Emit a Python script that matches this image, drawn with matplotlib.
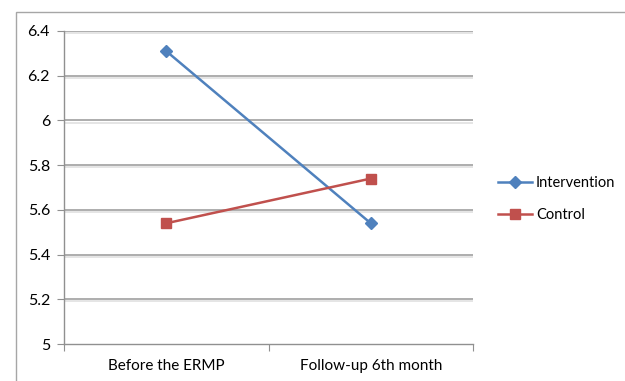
import matplotlib.pyplot as plt
import matplotlib.patheffects as pe
from matplotlib.patches import Rectangle

categories = ["Before the ERMP", "Follow-up 6th month"]
intervention = [6.31, 5.54]
control = [5.54, 5.74]
y_ticks = [5, 5.2, 5.4, 5.6, 5.8, 6, 6.2, 6.4]
y_labels = ["5", "5.2", "5.4", "5.6", "5.8", "6", "6.2", "6.4"]

plt.rcParams['font.family'] = ['Lato', 'DejaVu Sans']

fig = plt.figure(figsize=(6.25, 3.81), dpi=100)
fig.patch.set_facecolor('white')

# outer chart frame
fig.patches.append(Rectangle((16 / 625, -0.1), 1.2, (381 - 12) / 381 + 0.1,
                             transform=fig.transFigure, fill=False,
                             edgecolor='#a6a6a6', linewidth=1.0))

ax = fig.add_axes([64 / 625, (381 - 344) / 381, (473 - 64) / 625, (344 - 31) / 381])

x = [0.5, 1.5]
grid_color = '#a0a0a0'
shadow = [pe.SimpleLineShadow(offset=(0, -1.5), shadow_color='#d9d9d9', alpha=0.8),
          pe.Normal()]
for t in y_ticks[1:]:
    ax.axhline(t, color=grid_color, linewidth=1.2, zorder=1, path_effects=shadow)

ax.plot(x, intervention, color='#4F81BD', linewidth=1.8, marker='D',
        markersize=6.5, label='Intervention', zorder=3)
ax.plot(x, control, color='#C0504D', linewidth=1.8, marker='s',
        markersize=7.5, label='Control', zorder=3)

ax.set_xlim(0, 2)
ax.set_ylim(5, 6.4)
ax.set_yticks(y_ticks)
ax.set_yticklabels(y_labels)
ax.set_xticks([0, 1, 2])
ax.set_xticklabels([])
ax.set_xticks(x, minor=True)
ax.set_xticklabels(categories, minor=True)
ax.tick_params(axis='x', which='minor', length=0, pad=11, labelsize=11, colors='#000000')
ax.tick_params(axis='x', which='major', length=5, direction='out', color='#909090')
ax.tick_params(axis='y', length=5, direction='out', color='#909090', labelsize=11.5, pad=5)

for side in ['top', 'right']:
    ax.spines[side].set_visible(False)
for side in ['left', 'bottom']:
    ax.spines[side].set_color('#909090')
    ax.spines[side].set_linewidth(1.0)

leg = fig.legend(loc='center left', bbox_to_anchor=(485 / 625, (381 - 199) / 381),
                 frameon=False, fontsize=10.5, handlelength=2.3, labelspacing=1.25,
                 handletextpad=0.3)

fig.savefig('out.png', dpi=100)
